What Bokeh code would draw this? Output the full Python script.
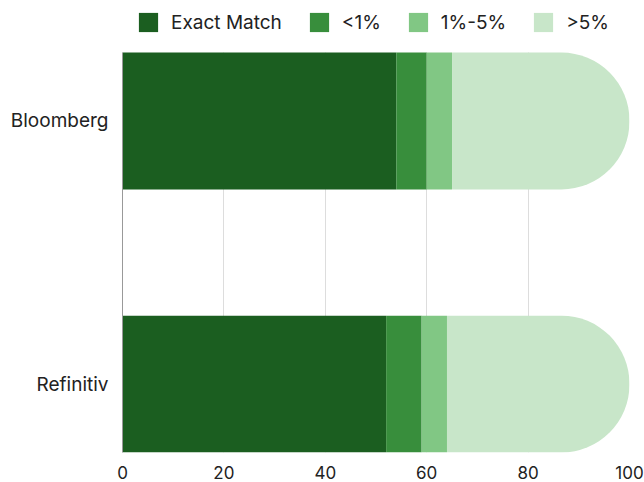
from bokeh.plotting import figure
from bokeh.models import ColumnDataSource, FixedTicker, Legend, LegendItem
from bokeh.embed import file_html
from bokeh.resources import INLINE

categories = ["Refinitiv", "Bloomberg"]
series = ["Exact Match", "<1%", "1%-5%", ">5%"]
exact_match = [52, 54]
under_1 = [7, 6]
between_1_5 = [5, 5]
over_5 = [36, 35]
colors = ["#1B5E20", "#388E3C", "#81C784", "#C8E6C9"]
x_ticks = [0, 20, 40, 60, 80, 100]

FONT = "Inter"
Y_LO, Y_HI, Y_TOP = -0.26, 1.26, 1.458

p = figure(width=644, height=482, output_backend="svg", toolbar_location=None,
           x_range=(0, 100), y_range=(Y_LO, Y_TOP),
           min_border_left=122, min_border_right=15, min_border_bottom=30, min_border_top=0)
p.outline_line_color = None
p.background_fill_color = "white"

ypos = list(range(len(categories)))
values = [exact_match, under_1, between_1_5, over_5]
left = [0.0] * len(categories)
renderers = []
for i, (name, vals) in enumerate(zip(series, values)):
    right = [l + v for l, v in zip(left, vals)]
    src = ColumnDataSource(dict(y=ypos, left=left, right=right))
    kw = {}
    if i == len(series) - 1:
        kw["border_radius"] = (0, 68, 68, 0)
    r = p.hbar(y="y", left="left", right="right", height=0.52, source=src,
               fill_color=colors[i], line_color=None, **kw)
    renderers.append(r)
    left = right

# axes
p.xaxis.ticker = FixedTicker(ticks=x_ticks)
p.xaxis.axis_line_color = None
p.xaxis.major_tick_line_color = None
p.xaxis.minor_tick_line_color = None
p.xaxis.major_label_text_font = FONT
p.xaxis.major_label_text_font_size = "17px"
p.xaxis.major_label_text_color = "#222222"
p.xaxis.major_label_standoff = 7

p.yaxis.ticker = FixedTicker(ticks=ypos)
p.yaxis.major_label_overrides = {i: c for i, c in zip(ypos, categories)}
p.yaxis.bounds = (Y_LO, Y_HI)
p.yaxis.axis_line_color = "#999999"
p.yaxis.axis_line_width = 1
p.yaxis.major_tick_line_color = None
p.yaxis.minor_tick_line_color = None
p.yaxis.major_label_text_font = FONT
p.yaxis.major_label_text_font_size = "19px"
p.yaxis.major_label_text_color = "#222222"
p.yaxis.major_label_standoff = 8

p.xgrid.grid_line_color = "#dddddd"
p.xgrid.grid_line_width = 1
p.xgrid.cross_bounds = (Y_LO, Y_HI)
p.ygrid.grid_line_color = None

legend = Legend(items=[LegendItem(label=s, renderers=[r]) for s, r in zip(series, renderers)],
                orientation="horizontal", location=(14, 418),
                glyph_width=24, glyph_height=24, label_standoff=11, spacing=25,
                label_text_font=FONT, label_text_font_size="19px", label_text_color="#222222",
                border_line_color=None, padding=0, margin=0, background_fill_alpha=0)
p.add_layout(legend)

html = file_html(p, INLINE)
open("out.html", "w").write(html)
